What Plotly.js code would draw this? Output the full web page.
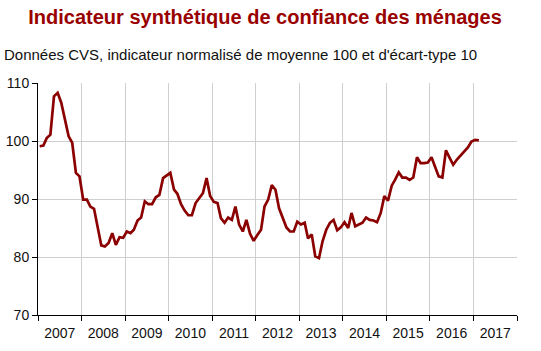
<!DOCTYPE html>
<html>
<head>
<meta charset="utf-8">
<script src="https://cdn.plot.ly/plotly-3.0.1.min.js"></script>
<style>
html,body{margin:0;padding:0;background:#fff;}
#chart{width:541px;height:351px;}
</style>
</head>
<body>
<div id="chart"></div>
<script>
// Monthly values (mid-month)
var years = [2007, 2008, 2009, 2010, 2011, 2012, 2013, 2014, 2015, 2016, 2017];
var v2007 = [99.1, 99.2, 100.5, 101.1, 107.7, 108.3, 106.6, 103.4, 100.8, 99.7, 94.5, 93.9];
var v2008 = [89.9, 89.9, 88.7, 88.3, 85.3, 82.0, 81.8, 82.4, 84.1, 82.1, 83.4, 83.3];
var v2009 = [84.4, 84.1, 84.7, 86.3, 86.8, 89.6, 89.1, 89.1, 90.3, 90.7, 93.6, 94.1];
var v2010 = [94.5, 91.6, 90.9, 89.1, 88.0, 87.2, 87.2, 89.3, 90.2, 91.0, 93.6, 90.5];
var v2011 = [89.5, 89.3, 86.7, 85.9, 86.8, 86.4, 88.7, 85.6, 84.4, 86.4, 84.0, 82.8];
var v2012 = [83.8, 84.7, 88.7, 89.9, 92.4, 91.6, 88.4, 86.7, 85.1, 84.4, 84.4, 86.1];
var v2013 = [85.6, 85.9, 83.2, 83.9, 80.1, 79.8, 82.7, 84.7, 85.9, 86.4, 84.6, 85.1];
var v2014 = [86.0, 85.0, 87.6, 85.3, 85.6, 85.9, 86.8, 86.4, 86.3, 86.0, 87.6, 90.5];
var v2015 = [89.7, 92.3, 93.3, 94.6, 93.7, 93.7, 93.3, 93.7, 97.2, 96.2, 96.2, 96.3];
var v2016 = [97.2, 95.3, 93.9, 93.7, 98.4, 97.1, 95.9, 96.8, 97.5, 98.2, 98.9, 99.9];
var v2017 = [100.2, 100.1];
var yearValues = [v2007, v2008, v2009, v2010, v2011, v2012, v2013, v2014, v2015, v2016, v2017];

var titleText = "Indicateur synthétique de confiance des ménages";
var subtitleText = "Données CVS, indicateur normalisé de moyenne 100 et d'écart-type 10";

var xs = [], ys = [];
for (var i = 0; i < years.length; i++) {
  var vals = yearValues[i];
  for (var m = 0; m < vals.length; m++) {
    var mm = (m + 1 < 10 ? "0" : "") + (m + 1);
    xs.push(years[i] + "-" + mm + "-15");
    ys.push(vals[m]);
  }
}

var font = "Liberation Sans, Arial, sans-serif";
var trace = {
  x: xs, y: ys, type: "scatter", mode: "lines",
  line: {color: "#8b0000", width: 2.7},
  hoverinfo: "skip"
};

var layout = {
  width: 541, height: 351,
  margin: {l: 38, r: 24, t: 83, b: 36},
  paper_bgcolor: "#fff", plot_bgcolor: "#fff",
  font: {family: font, size: 14, color: "#111"},
  showlegend: false,
  title: {
    text: "<b>" + titleText + "</b>",
    font: {family: font, size: 20, color: "#990000"},
    xref: "paper", x: 0.474, xanchor: "center",
    yref: "container", y: 0.952, yanchor: "middle"
  },
  annotations: [{
    text: subtitleText, xref: "paper", yref: "paper",
    x: -0.076, y: 1.0, xanchor: "left", yanchor: "middle",
    yshift: 29, showarrow: false,
    font: {family: font, size: 15, color: "#111"}
  }],
  xaxis: {
    type: "date",
    range: ["2007-01-01", "2018-01-01"],
    tick0: "2007-01-01", dtick: "M12",
    tickformat: "%Y", ticklabelmode: "period",
    ticks: "outside", ticklen: 5, tickcolor: "#000",
    showline: true, linecolor: "#000", linewidth: 1,
    showgrid: true, gridcolor: "#cfcfcf", gridwidth: 1,
    zeroline: false,
    tickfont: {family: font, size: 14, color: "#111"}
  },
  yaxis: {
    range: [70, 110], tick0: 70, dtick: 10,
    ticks: "outside", ticklen: 5, tickcolor: "#000",
    showline: true, linecolor: "#000", linewidth: 1,
    showgrid: true, gridcolor: "#cfcfcf", gridwidth: 1,
    zeroline: false,
    tickfont: {family: font, size: 14, color: "#111"}
  }
};

Plotly.newPlot("chart", [trace], layout, {staticPlot: true, displayModeBar: false});
</script>
</body>
</html>
